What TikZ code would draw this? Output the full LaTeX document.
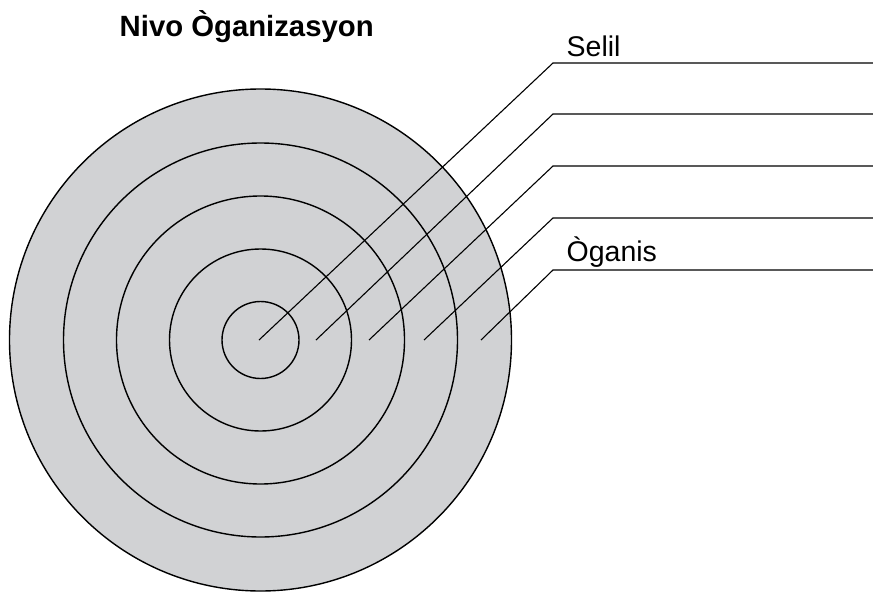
\documentclass[tikz,border=0pt]{standalone}
\usepackage{fontspec}
\setmainfont{Liberation Sans}
\usepackage{xcolor}
\usepackage{tikz}
\tikzset{
	ring/.style = {circle, draw=black, line width=1.4pt, fill=ringgray, inner sep=0pt},
	leader/.style = {draw=black, line width=1.1pt},
	label/.style = {anchor=base west, inner sep=0pt, font=\fontsize{28.5}{30}\selectfont},
}
\definecolor{ringgray}{RGB}{209, 210, 212}

\begin{document}
\begin{tikzpicture}[x=1pt, y=-1pt]
	\useasboundingbox (0,0) rectangle (873,597);

	\node[font=\fontsize{29.3}{31}\selectfont\bfseries, anchor=base west, inner sep=0pt] (title) at (119.5, 36) {Nivo Òganizasyon};

	% rings, from the outside in
	\node[ring, minimum size=502pt] (r5) at (260.5, 340) {};
	\node[ring, minimum size=394pt] (r4) at (260.5, 340) {};
	\node[ring, minimum size=288pt] (r3) at (260.5, 340) {};
	\node[ring, minimum size=182pt] (r2) at (260.5, 340) {};
	\node[ring, minimum size=77pt] (r1) at (260.5, 340) {};

	\coordinate (p1) at (259, 340);
	\coordinate (p2) at (316, 340);
	\coordinate (p3) at (369, 340);
	\coordinate (p4) at (424, 340);
	\coordinate (p5) at (481, 340);

	\coordinate (k1) at (553, 63);
	\coordinate (k2) at (553, 114);
	\coordinate (k3) at (553, 166);
	\coordinate (k4) at (553, 218);
	\coordinate (k5) at (553, 270);

	\coordinate (e1) at (873, 63);
	\coordinate (e2) at (873, 114);
	\coordinate (e3) at (873, 166);
	\coordinate (e4) at (873, 218);
	\coordinate (e5) at (873, 270);

	\path[leader] (p1) -- (k1) -- (e1);
	\path[leader] (p2) -- (k2) -- (e2);
	\path[leader] (p3) -- (k3) -- (e3);
	\path[leader] (p4) -- (k4) -- (e4);
	\path[leader] (p5) -- (k5) -- (e5);

	\node[label] (selil) at (566.5, 56) {Selil};
	\node[label] (oganis) at (566.5, 261) {Òganis};
\end{tikzpicture}
\end{document}
